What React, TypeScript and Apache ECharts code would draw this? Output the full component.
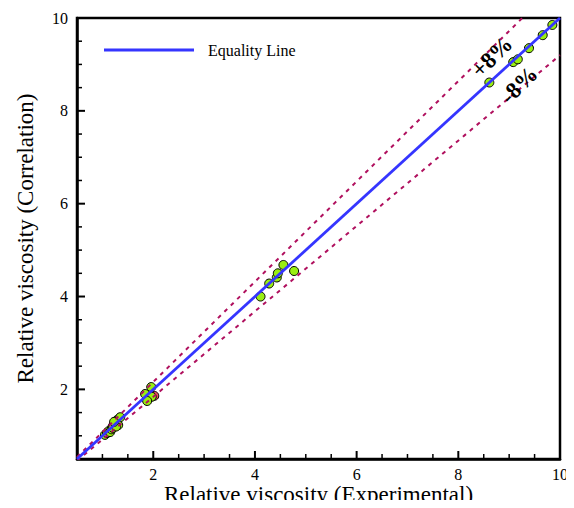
import React, { useEffect, useRef } from "react";
import * as echarts from "echarts";

const xMajorTicks = [2, 4, 6, 8, 10];
const yMajorTicks = [2, 4, 6, 8, 10];
const minorTicks = [1, 1.5, 2.5, 3, 3.5, 4.5, 5, 5.5, 6.5, 7, 7.5, 8.5, 9, 9.5];
const axisRange = [0.5, 10];
const deviation = 0.08;

const greenPoints: [number, number][] = [
  [1.05, 1.02], [1.09, 1.06], [1.12, 1.1], [1.15, 1.08], [1.18, 1.14], [1.21, 1.17],
  [1.25, 1.28], [1.29, 1.34], [1.31, 1.23], [1.35, 1.4], [1.27, 1.2], [1.23, 1.3],
  [1.84, 1.9], [1.96, 2.05], [1.97, 1.84], [1.88, 1.75],
  [4.11, 4.0], [4.28, 4.28], [4.43, 4.41], [4.45, 4.5], [4.56, 4.68], [4.77, 4.55],
  [8.61, 8.61], [9.08, 9.05], [9.17, 9.11], [9.39, 9.35], [9.66, 9.63], [9.85, 9.85],
];
const redPoints: [number, number][] = [
  [2.02, 1.86], [1.2, 1.2], [1.28, 1.24],
];

const SERIF = "'Liberation Serif', 'Times New Roman', serif";

export default function App() {
  const ref = useRef<HTMLDivElement>(null);
  useEffect(() => {
    if (!ref.current) return;
    const chart = echarts.init(ref.current, null, { renderer: "svg" });
    const [lo, hi] = axisRange;
    const eqLine = axisRange.map((v) => [v, v]);
    const upLine = axisRange.map((v) => [v, v * (1 + deviation)]);
    const dnLine = axisRange.map((v) => [v, v * (1 - deviation)]);
    const dashColor = "#b0105e";
    const MAJOR_LEN = 8;
    const MINOR_LEN = 5;

    const tickSeries = (values: number[], isX: boolean, len: number, w: number) => ({
      type: "scatter",
      silent: true,
      clip: false,
      z: 10,
      symbol: "rect",
      symbolSize: isX ? [w, len] : [len, w],
      symbolOffset: isX ? [0, -len / 2] : [len / 2, 0],
      itemStyle: { color: "#000", borderWidth: 0, opacity: 1 },
      data: values.map((v) => (isX ? [v, lo] : [lo, v])),
    });

    const axisCommon = (isX: boolean) => ({
      type: "value",
      min: lo,
      max: hi,
      splitLine: { show: false },
      axisLine: { show: true, onZero: false, lineStyle: { color: "#000", width: 2.5 } },
      axisTick: { show: false },
      axisLabel: {
        show: true,
        color: "#000",
        fontFamily: SERIF,
        fontSize: 16,
        margin: isX ? 7 : 9,
        customValues: isX ? xMajorTicks : yMajorTicks,
      },
      nameMoveOverlap: false,
    });

    chart.setOption({
      animation: false,
      backgroundColor: "#fff",
      grid: {
        left: 77,
        right: 14,
        top: 18,
        bottom: 49,
        show: true,
        borderColor: "#000",
        borderWidth: 2.5,
        backgroundColor: "transparent",
        outerBoundsMode: "none",
        containLabel: false,
      },
      legend: {
        left: 104,
        top: 42,
        padding: 0,
        data: [{ name: "Equality Line", icon: "rect" }],
        itemWidth: 90,
        itemHeight: 3,
        textStyle: { fontFamily: SERIF, fontSize: 16, color: "#000", padding: [0, 0, 0, 9] },
      },
      xAxis: {
        ...axisCommon(true),
        name: "Relative viscosity (Experimental)",
        nameLocation: "middle",
        nameGap: 24,
        nameTextStyle: { fontFamily: SERIF, fontSize: 23, color: "#000" },
      },
      yAxis: {
        ...axisCommon(false),
        name: "Relative viscosity (Correlation)",
        nameLocation: "middle",
        nameGap: 40,
        nameTextStyle: { fontFamily: SERIF, fontSize: 23, color: "#000" },
      },
      series: [
        {
          name: "+8%",
          type: "line",
          data: upLine,
          symbol: "none",
          lineStyle: { color: dashColor, width: 2, type: [4, 5] },
          clip: true,
          silent: true,
        },
        {
          name: "-8%",
          type: "line",
          data: dnLine,
          symbol: "none",
          lineStyle: { color: dashColor, width: 2, type: [4, 5] },
          clip: true,
          silent: true,
        },
        {
          name: "Equality Line",
          type: "line",
          data: eqLine,
          symbol: "none",
          itemStyle: { color: "#3535ff" },
          lineStyle: { color: "#3535ff", width: 2.8 },
          clip: true,
        },
        {
          name: "red",
          type: "scatter",
          data: redPoints,
          symbolSize: 9,
          itemStyle: { color: "#e8505a", borderColor: "#000", borderWidth: 1, opacity: 1 },
        },
        {
          name: "data",
          type: "scatter",
          data: greenPoints,
          symbolSize: 9,
          itemStyle: { color: "#99ee11", borderColor: "#000", borderWidth: 1, opacity: 1 },
        },
        { name: "xMajor", ...tickSeries(xMajorTicks, true, MAJOR_LEN, 2) },
        { name: "xMinor", ...tickSeries(minorTicks, true, MINOR_LEN, 1.5) },
        { name: "yMajor", ...tickSeries(yMajorTicks, false, MAJOR_LEN, 2) },
        { name: "yMinor", ...tickSeries(minorTicks, false, MINOR_LEN, 1.5) },
      ],
      graphic: [
        {
          type: "text",
          x: 492,
          y: 57,
          rotation: Math.PI / 4,
          style: {
            text: "+8%",
            font: `bold 23px ${SERIF}`,
            fill: "#000",
            textAlign: "center",
            textVerticalAlign: "middle",
          },
          z: 100,
        },
        {
          type: "text",
          x: 519,
          y: 85,
          rotation: Math.PI / 4,
          style: {
            text: "-8%",
            font: `bold 23px ${SERIF}`,
            fill: "#000",
            textAlign: "center",
            textVerticalAlign: "middle",
          },
          z: 100,
        },
      ],
    });
    return () => chart.dispose();
  }, []);
  return <div ref={ref} style={{ width: 574, height: 508, margin: -8 }} />;
}
